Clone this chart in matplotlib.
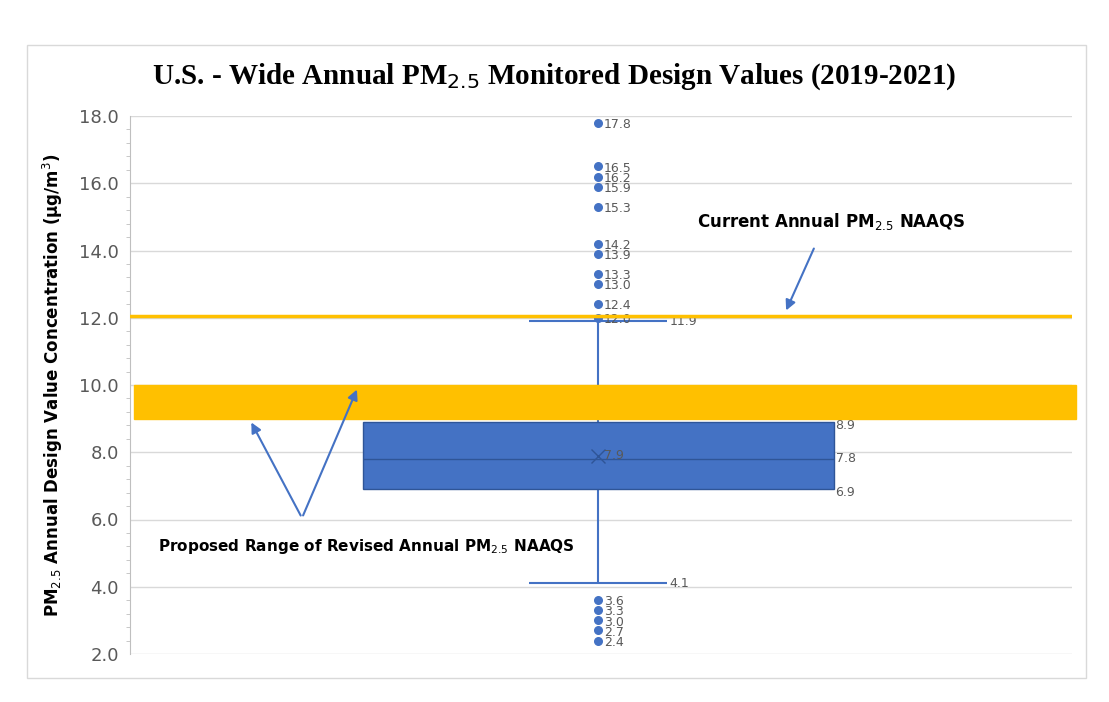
import matplotlib.pyplot as plt
from matplotlib.patches import Rectangle

# box plot statistics
q1, median, q3 = 6.9, 7.8, 8.9
mean = 7.9
whisker_low, whisker_high = 4.1, 11.9
outliers = [17.8, 16.5, 16.2, 15.9, 15.3, 14.2, 13.9, 13.3, 13.0, 12.4, 12.0,
            3.6, 3.3, 3.0, 2.7, 2.4]
current_naaqs = 12.04
proposed_range = [9.0, 10.0]
yticks = [2, 4, 6, 8, 10, 12, 14, 16, 18]

BLUE = '#4472C4'
GOLD = '#FFC000'
W, H = 1109, 702


def px(x, y):
    # pixel position on the reference -> data coordinates
    return (x - 130) / 942, 2 + (654 - y) / 538 * 16


fig = plt.figure(figsize=(W / 100, H / 100), dpi=100)
fig.patches.append(Rectangle((27 / W, 1 - 678 / H), 1059 / W, 633 / H, transform=fig.transFigure,
                             fill=False, edgecolor='#d9d9d9', lw=1))
ax = fig.add_axes([130 / W, 1 - 654 / H, 942 / W, 538 / H])
ax.set_xlim(0, 1)
ax.set_ylim(2, 18)
ax.set_yticks(yticks)
ax.set_yticklabels([f'{v:.1f}' for v in yticks], fontsize=13, color='#595959')
ax.set_yticks([y + 0.4 * k for y in yticks[:-1] for k in range(1, 5)], minor=True)
ax.tick_params(axis='y', which='minor', length=3, color='#bfbfbf')
ax.tick_params(axis='y', which='major', length=0, pad=8)
ax.set_xticks([])
for s in ['top', 'right', 'bottom']:
    ax.spines[s].set_visible(False)
ax.spines['left'].set_color('#bfbfbf')
ax.grid(axis='y', color='#d9d9d9', lw=1)
ax.set_axisbelow(True)

cx, hw, cap = 0.497, 0.25, 0.073
# whiskers
ax.vlines(cx, whisker_low, q1, color=BLUE, lw=1.5, zorder=2)
ax.vlines(cx, q3, whisker_high, color=BLUE, lw=1.5, zorder=2)
ax.hlines([whisker_low, whisker_high], cx - cap, cx + cap, color=BLUE, lw=1.5, zorder=2)
# box
ax.bar(cx, q3 - q1, bottom=q1, width=2 * hw, color=BLUE, edgecolor='#2f5597', lw=1, zorder=3)
ax.hlines(median, cx - hw, cx + hw, color='#2f5597', lw=1, zorder=4)
ax.plot(cx, mean, marker='x', ms=10, color='#2f5597', zorder=4)
ax.scatter([cx] * len(outliers), outliers, s=30, color=BLUE, zorder=4)

lab = dict(fontsize=9, color='#595959', va='center', zorder=5)
for v in outliers:
    ax.text(cx + 0.006, v - 0.05, f'{v:.1f}', **lab)
ax.text(cx + 0.006, mean, f'{mean:.1f}', **lab)
for v in [q3, median, q1]:
    ax.text(cx + hw + 0.002, v - 0.1 if v != median else v, f'{v:.1f}', **lab)
for v in [whisker_low, whisker_high]:
    ax.text(cx + cap + 0.003, v, f'{v:.1f}', **lab)

# standards
ax.axhline(current_naaqs, color=GOLD, lw=2.5, zorder=5)
band = ax.axhspan(proposed_range[0], proposed_range[1], xmin=0.004, xmax=1.004, color=GOLD, zorder=5)
band.set_clip_on(False)

arrow = dict(arrowstyle='-|>', color=BLUE, lw=1.5, mutation_scale=15)
ax.text(*px(697, 222), 'Current Annual PM$_{2.5}$ NAAQS', fontsize=12, fontweight='bold', va='center')
ax.annotate('', xy=px(785, 313), xytext=px(815, 246), arrowprops=arrow, zorder=6)
ax.text(*px(158, 546), 'Proposed Range of Revised Annual PM$_{2.5}$ NAAQS', fontsize=11,
        fontweight='bold', va='center')
ax.annotate('', xy=px(250, 420), xytext=px(302, 518), arrowprops=arrow, zorder=6)
ax.annotate('', xy=px(358, 387), xytext=px(302, 518), arrowprops=arrow, zorder=6)

ax.set_ylabel('PM$_{2.5}$ Annual Design Value Concentration (µg/m$^3$)', fontsize=12,
              fontweight='bold', labelpad=10)
fig.text(0.5, 1 - 77 / H, 'U.S. - Wide Annual PM$_{2.5}$ Monitored Design Values (2019-2021)',
         ha='center', va='center', fontsize=21, fontweight='bold', family='Liberation Serif')

fig.savefig('out.png', dpi=100)
